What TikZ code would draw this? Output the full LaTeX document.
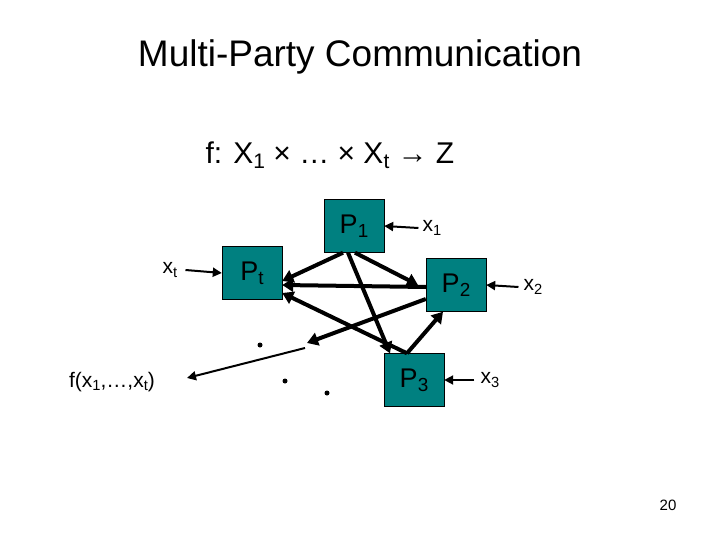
\documentclass[tikz,border=0pt]{standalone}
\usepackage{fontspec}
\setmainfont{Liberation Sans}
\usetikzlibrary{arrows.meta}
\definecolor{teal1}{RGB}{0,128,128}
\newcommand{\sbx}[1]{\raisebox{-0.3ex}{\fontsize{0.7\dimexpr\fontdimen6\font}{1}\selectfont #1}}
\begin{document}
\begin{tikzpicture}[x=1pt,y=-1pt,
  pbox/.style={draw=black,fill=teal1,minimum width=60pt,minimum height=53pt,inner sep=0pt,font=\fontsize{27}{28}\selectfont},
  thick arr/.style={line width=4pt,-{Triangle[length=11pt,width=13pt]}},
  thin arr/.style={line width=2pt,-{Triangle[length=9pt,width=9pt]}},
  lab/.style={font=\fontsize{21}{24}\selectfont,inner sep=0pt},
  dotn/.style={circle,fill=black,inner sep=0pt,minimum size=5pt}]
\useasboundingbox (0,0) rectangle (720,540);
\node[font=\fontsize{37}{40}\selectfont] (title) at (360,57) {Multi-Party Communication};
\node[font=\fontsize{30}{32}\selectfont] (f) at (330,155) {f: X\sbx{1} × … × X\sbx{t} → Z};
\node[pbox] (P1) at (354,226) {P\sbx{1}};
\node[pbox] (Pt) at (252,273) {P\sbx{t}};
\node[pbox] (P2) at (456,285) {P\sbx{2}};
\node[pbox] (P3) at (414,380) {P\sbx{3}};
\node[lab] (x1) at (432,228) {x\sbx{1}};
\node[lab] (xt) at (170,270) {x\sbx{t}};
\node[lab] (x2) at (533,287) {x\sbx{2}};
\node[lab] (x3) at (490,380) {x\sbx{3}};
\node[lab] (fo) at (112,382) {f(x\sbx{1},…,x\sbx{t})};
\node[font=\fontsize{15}{17}\selectfont] (pg) at (668,505) {20};
\draw[thin arr] (x1.west)++(-4,0) -- (P1.east);
\draw[thin arr] (xt.east)++(8,0) -- (Pt.west);
\draw[thin arr] (x2.west)++(-5,0) -- (P2.east);
\draw[thin arr] (x3.west)++(-6,0) -- (P3.east);
\coordinate (e1) at (307,343);
\coordinate (s2) at (305,348);
\coordinate (e2) at (187,378);
\draw[thick arr] ([xshift=-11pt]P1.south) -- ([yshift=-8pt]Pt.east);
\draw[thick arr] ([xshift=1pt]P1.south) -- (418,285);
\draw[thick arr] ([xshift=-6pt]P1.south) -- ([xshift=-24pt]P3.north);
\draw[thick arr] ([yshift=-2pt]P2.west) -- ([yshift=-12pt]Pt.east);
\draw[thick arr] ([yshift=-14pt]P2.west) -- (e1);
\draw[thick arr] ([xshift=-7pt]P3.north) -- ([yshift=-20pt]Pt.east);
\draw[thick arr] ([xshift=-7pt]P3.north) -- ([xshift=-13pt]P2.south);
\draw[thin arr] (s2) -- (e2);
\node[dotn] (d1) at (260,345) {};
\node[dotn] (d2) at (285,381) {};
\node[dotn] (d3) at (327,393) {};
\end{tikzpicture}
\end{document}
